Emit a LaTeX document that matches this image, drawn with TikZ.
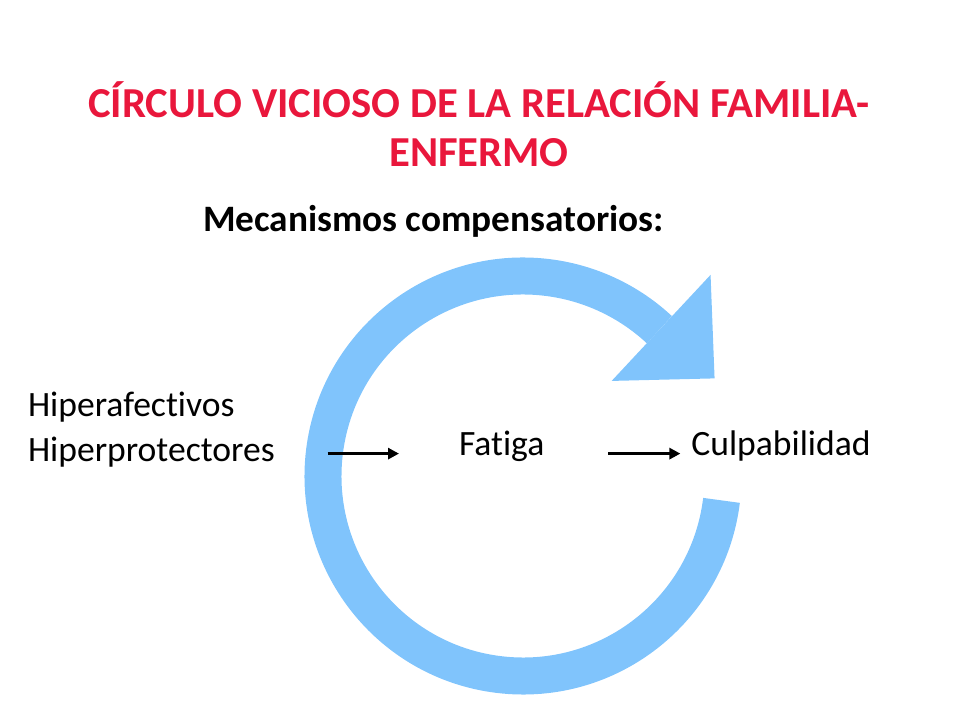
\documentclass[tikz,border=0pt]{standalone}
\usepackage{fontspec}
\setmainfont{Carlito}[Ligatures = CommonOff]
\usepackage{tikz}
\usetikzlibrary{positioning,arrows.meta}
\definecolor{titlered}{RGB}{233,23,60}
\definecolor{loopblue}{RGB}{128,196,252}

\begin{document}
\begin{tikzpicture}[x = 1pt, y = 1pt,
    every node/.style = { inner sep = 0pt, outer sep = 0pt },
    headline/.style = { align = center, text = titlered, font = \fontsize{42.7}{49}\selectfont\bfseries },
    subhead/.style = { font = \fontsize{37.3}{44}\selectfont\bfseries },
    term/.style = { align = left, font = \fontsize{35.6}{45}\selectfont },
    link/.style = { -{Triangle[length = 11pt, width = 11pt]}, line width = 3pt }]
    \useasboundingbox (0,0) rectangle (960,720);
    % the loop
    \coordinate (c) at (523,244);
    \draw[loopblue, line width = 37pt] ([shift = {(-7:200)}]c) arc[start angle = -7, end angle = -313, radius = 200];
    \fill[loopblue] ([shift = {(47:130)}]c) -- ([shift = {(47:275)}]c) -- ([shift = {(27:215)}]c) -- cycle;
    % texts
    \node[headline, anchor = base] (head) at (479,553) { CÍRCULO VICIOSO DE LA RELACIÓN FAMILIA-\\ ENFERMO };
    \node[subhead, anchor = base west] (mech) at (203,488) { Mecanismos compensatorios: };
    \node[term, anchor = base west] (hiper) at (28,258) { Hiperafectivos\\ Hiperprotectores };
    \node[term, anchor = base west] (fatiga) at (459,264) { Fatiga };
    \node[term, base right = 139pt of fatiga] (culpa) { Culpabilidad };
    % arrows
    \draw[link, shorten <= 53pt, shorten >= 60pt] (hiper.east |- fatiga.mid) -- (fatiga.mid west);
    \draw[link, shorten <= 56pt, shorten >= 11pt] (fatiga.mid east) -- (culpa.mid west);
\end{tikzpicture}
\end{document}
